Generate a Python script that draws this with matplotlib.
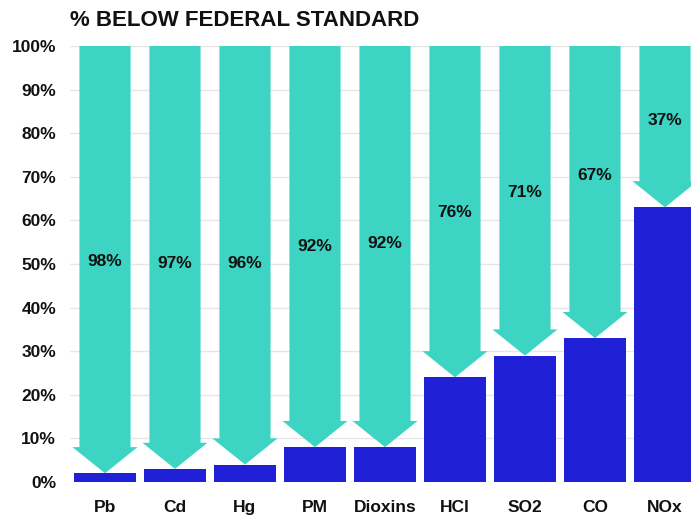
import matplotlib
matplotlib.use("Agg")
import matplotlib.pyplot as plt
from matplotlib.patches import Polygon

categories = ["Pb", "Cd", "Hg", "PM", "Dioxins", "HCl", "SO2", "CO", "NOx"]
above_standard = [2, 3, 4, 8, 8, 24, 29, 33, 63]
below_standard = [98, 97, 96, 92, 92, 76, 71, 67, 37]
yticks = [0, 10, 20, 30, 40, 50, 60, 70, 80, 90, 100]
# vertical placement of the percentage labels (in % units), as in the original
label_y = [50.5, 50.2, 50.2, 54.1, 54.6, 61.7, 66.5, 70.2, 82.8]

TEAL = "#3DD4C4"
BLUE = "#2020D6"

plt.rcParams['font.family'] = ['Liberation Sans', 'DejaVu Sans']

W, H = 691, 518
fig = plt.figure(figsize=(W / 100, H / 100), dpi=100)
ax = fig.add_axes([70 / W, 36 / H, 630 / W, 436 / H])

x = list(range(len(categories)))
ax.bar(x, above_standard, width=0.88, color=BLUE, zorder=3)

shaft_hw = 0.365
head_hw = 0.465
head_len = 6
for xi, base, pct, ly in zip(x, above_standard, below_standard, label_y):
    top = base + pct
    verts = [
        (xi - shaft_hw, top), (xi + shaft_hw, top),
        (xi + shaft_hw, base + head_len), (xi + head_hw, base + head_len),
        (xi, base), (xi - head_hw, base + head_len),
        (xi - shaft_hw, base + head_len),
    ]
    ax.add_patch(Polygon(verts, closed=True, facecolor=TEAL, edgecolor='none', zorder=4))
    ax.text(xi, ly, f"{pct}%", ha='center', va='center',
            fontsize=12.5, fontweight='bold', color='#111111', zorder=5)

ax.set_xlim(-0.5, len(categories) - 0.5)
ax.set_ylim(0, 100)
ax.set_yticks(yticks)
ax.set_yticklabels([f"{v}%" for v in yticks], fontsize=12.5, fontweight='bold')
ax.set_xticks(x)
ax.set_xticklabels(categories, fontsize=12.5, fontweight='bold')
ax.tick_params(axis='both', length=0, colors='#111111')
ax.tick_params(axis='y', pad=10)
ax.tick_params(axis='x', pad=13)
for s in ax.spines.values():
    s.set_visible(False)
ax.grid(axis='y', color='#e6e6e6', linewidth=1, zorder=0)
ax.set_axisbelow(True)

fig.text(70 / W, 1 - 20 / H, "% BELOW FEDERAL STANDARD", fontsize=16,
         fontweight='bold', color='#111111', va='center', ha='left')

fig.savefig("out.png", dpi=100)
